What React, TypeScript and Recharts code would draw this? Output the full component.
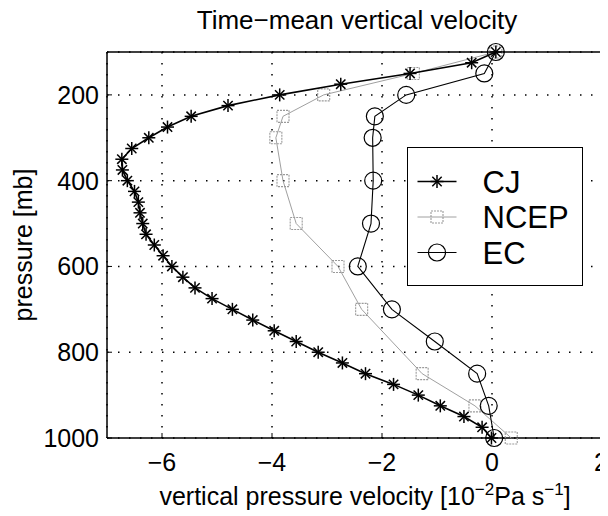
import React from 'react';
import { ScatterChart, Scatter, XAxis, YAxis, CartesianGrid, Label } from 'recharts';

const FONT = '"Liberation Sans", Arial, Helvetica, sans-serif';

const X_TICKS = [-6, -4, -2, 0, 2];
const P_TICKS = [200, 400, 600, 800, 1000];

// CJ profile, every 25 mb
const CJ_P = [100, 125, 150, 175, 200, 225, 250, 275, 300, 325, 350, 375, 400, 425, 450, 475, 500, 525, 550,
              575, 600, 625, 650, 675, 700, 725, 750, 775, 800, 825, 850, 875, 900, 925, 950, 975, 1000];
const CJ_W = [0.07, -0.37, -1.49, -2.75, -3.86, -4.8, -5.47, -5.9, -6.24, -6.55, -6.73, -6.72, -6.63, -6.5, -6.43,
              -6.4, -6.35, -6.29, -6.14, -5.98, -5.82, -5.62, -5.4, -5.09, -4.72, -4.35, -3.96, -3.56, -3.16,
              -2.72, -2.3, -1.79, -1.34, -0.94, -0.51, -0.18, -0.01];

const NCEP_P = [100, 150, 200, 250, 300, 400, 500, 600, 700, 850, 925, 1000];
const NCEP_W = [0.07, -1.43, -3.06, -3.8, -3.93, -3.8, -3.56, -2.8, -2.37, -1.27, -0.31, 0.35];

const EC_P = [100, 150, 200, 250, 300, 400, 500, 600, 700, 775, 850, 925, 1000];
const EC_W = [0.07, -0.14, -1.56, -2.13, -2.17, -2.16, -2.2, -2.44, -1.82, -1.04, -0.27, -0.06, 0.04];

const toPoints = (p: number[], w: number[]) => p.map((v, i) => ({ x: w[i], y: v }));

const Star = ({ cx, cy }: any) => {
  const r = 6.5;
  const d = r * 0.72;
  return (
    <g stroke="#000" strokeWidth={1.5}>
      <line x1={cx - r} y1={cy} x2={cx + r} y2={cy} />
      <line x1={cx} y1={cy - r} x2={cx} y2={cy + r} />
      <line x1={cx - d} y1={cy - d} x2={cx + d} y2={cy + d} />
      <line x1={cx - d} y1={cy + d} x2={cx + d} y2={cy - d} />
    </g>
  );
};

const Square = ({ cx, cy }: any) => (
  <rect x={cx - 6} y={cy - 6} width={12} height={12} fill="none" stroke="#9a9a9a"
        strokeWidth={1.1} strokeDasharray="2 1" />
);

const Ring = ({ cx, cy }: any) => (
  <circle cx={cx} cy={cy} r={8.5} fill="none" stroke="#000" strokeWidth={1.2} />
);

const SERIES = [
  { name: 'CJ', shape: Star, stroke: '#000', width: 1.6 },
  { name: 'NCEP', shape: Square, stroke: '#a0a0a0', width: 1 },
  { name: 'EC', shape: Ring, stroke: '#000', width: 1.1 },
];

const XTitle = () => (
  <text x={357} y={497} textAnchor="middle" fontFamily={FONT} fontSize={25} fill="#000">
    vertical pressure velocity [10<tspan dy={-10} fontSize={17}>−2</tspan>
    <tspan dy={10}>Pa s</tspan><tspan dy={-10} fontSize={17}>−1</tspan><tspan dy={10}>]</tspan>
  </text>
);

const YTitle = () => (
  <text x={24} y={237} transform="rotate(-90, 24, 237)" textAnchor="middle"
        fontFamily={FONT} fontSize={25} fill="#000">
    pressure [mb]
  </text>
);

// x tick labels; the last one sits at the page edge, so nudge it in a little
const XTick = ({ x, y, payload }: any) => {
  const v = payload.value;
  return (
    <text x={v === 2 ? x - 1 : x} y={y} dy="0.71em" textAnchor="middle" fontFamily={FONT} fontSize={25} fill="#000">
      {v < 0 ? `−${-v}` : `${v}`}
    </text>
  );
};

const LegendBox = () => (
  <div style={{ position: 'absolute', left: 399, top: 139, width: 176, height: 139,
                border: '1.5px solid #000', background: '#fff', boxSizing: 'border-box' }}>
    <svg width={173} height={136}>
      {SERIES.map((s, i) => {
        const y = 33.5 + i * 35.5;
        const Shape = s.shape;
        return (
          <g key={s.name}>
            <line x1={9.5} x2={48.5} y1={y} y2={y} stroke={s.stroke} strokeWidth={s.width} />
            <Shape cx={29} cy={y} />
            <text x={74.5} y={y + 11} fontFamily={FONT} fontSize={31} fill="#000">{s.name}</text>
          </g>
        );
      })}
    </svg>
  </div>
);

export default function App() {
  const tickStyle = { fontFamily: FONT, fontSize: 25, fill: '#000' };
  const axisLine = { stroke: '#000', strokeWidth: 1.5 };
  return (
    <div style={{ position: 'relative', width: 600, height: 508 }}>
      <svg width={600} height={44} style={{ position: 'absolute', left: 0, top: -8 }}>
        <text x={349} y={29} textAnchor="middle" fontFamily={FONT} fontSize={26} fill="#000">
          Time−mean vertical velocity
        </text>
      </svg>
      <ScatterChart width={600} height={508} margin={{ top: 43, right: 5, bottom: 0, left: 0 }}
                    style={{ overflow: 'visible' }}>
        <CartesianGrid xAxisId="b" yAxisId="l" stroke="#000" strokeWidth={1.5} strokeDasharray="1.5 9.5" />
        <XAxis xAxisId="b" dataKey="x" type="number" domain={[-7, 2]} ticks={X_TICKS} height={78}
               tick={<XTick />} tickSize={-5} tickMargin={20} axisLine={axisLine} tickLine={{ stroke: '#000' }}>
          <Label content={XTitle} />
        </XAxis>
        <XAxis xAxisId="t" orientation="top" type="number" domain={[-7, 2]} ticks={X_TICKS} height={1}
               tick={false} tickSize={-5} axisLine={axisLine} tickLine={{ stroke: '#000' }} />
        <YAxis yAxisId="l" dataKey="y" type="number" domain={[100, 1000]} reversed ticks={P_TICKS} width={99}
               tick={tickStyle} tickSize={-5} tickMargin={13} axisLine={axisLine} tickLine={{ stroke: '#000' }}>
          <Label content={YTitle} />
        </YAxis>
        <YAxis yAxisId="r" orientation="right" type="number" domain={[100, 1000]} reversed ticks={P_TICKS} width={1}
               tick={false} tickSize={-5} axisLine={axisLine} tickLine={{ stroke: '#000' }} />
        <Scatter xAxisId="b" yAxisId="l" data={toPoints(NCEP_P, NCEP_W)} shape={Square} lineType="joint"
                 line={{ stroke: '#a0a0a0', strokeWidth: 1 }} isAnimationActive={false} />
        <Scatter xAxisId="b" yAxisId="l" data={toPoints(EC_P, EC_W)} shape={Ring} lineType="joint"
                 line={{ stroke: '#000', strokeWidth: 1.1 }} isAnimationActive={false} />
        <Scatter xAxisId="b" yAxisId="l" data={toPoints(CJ_P, CJ_W)} shape={Star} lineType="joint"
                 line={{ stroke: '#000', strokeWidth: 1.6 }} isAnimationActive={false} />
      </ScatterChart>
      <LegendBox />
    </div>
  );
}
